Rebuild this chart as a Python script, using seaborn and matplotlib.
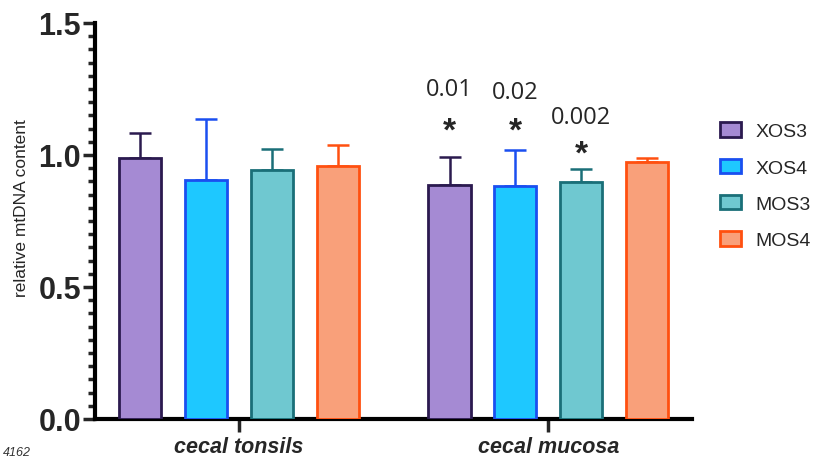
import pandas as pd
import seaborn as sns
import matplotlib.pyplot as plt
from matplotlib.ticker import MultipleLocator

sites = ["cecal tonsils", "cecal mucosa"]
groups = ["XOS3", "XOS4", "MOS3", "MOS4"]
means = {
    "XOS3": [0.99, 0.886],
    "XOS4": [0.905, 0.883],
    "MOS3": [0.943, 0.898],
    "MOS4": [0.958, 0.973],
}
errs = {
    "XOS3": [0.093, 0.106],
    "XOS4": [0.231, 0.136],
    "MOS3": [0.080, 0.049],
    "MOS4": [0.080, 0.016],
}
face_colors = ["#A58AD3", "#1EC8FF", "#6FC8D0", "#F9A07A"]
edge_colors = ["#2B1A4F", "#1A4FF0", "#1A6F78", "#FF5010"]

# p-value labels for cecal mucosa (group, p text, p height, star height)
p_labels = [("XOS3", "0.01", 1.25, 1.09), ("XOS4", "0.02", 1.239, 1.09),
            ("MOS3", "0.002", 1.144, 1.005)]

rows = []
for g in groups:
    for s, m in zip(sites, means[g]):
        rows.append({"site": s, "group": g, "value": m})
df = pd.DataFrame(rows)

sns.set_style("white")
plt.rcParams["font.family"] = ["Liberation Sans", "DejaVu Sans"]

fig = plt.figure(figsize=(8.15, 4.6), dpi=100)
ax = fig.add_axes([0.1166, 0.087, 0.733, 0.861])

sns.barplot(data=df, x="site", y="value", hue="group", order=sites,
            hue_order=groups, palette=face_colors, saturation=1,
            width=0.852, gap=0.36, errorbar=None, ax=ax, zorder=3)

bar_containers = list(ax.containers)
centers = {}
for g, cont, ec in zip(groups, bar_containers, edge_colors):
    xs = []
    for bar in cont:
        bar.set_edgecolor(ec)
        bar.set_linewidth(2)
        xs.append(bar.get_x() + bar.get_width() / 2)
    centers[g] = xs
    ax.errorbar(xs, means[g], yerr=[[0, 0], errs[g]], fmt="none",
                ecolor=ec, elinewidth=1.8, capsize=8, capthick=1.8, zorder=2)

for g, p, py, sy in p_labels:
    x = centers[g][1]
    ax.text(x, py, p, ha="center", va="center", fontsize=17,
            family=["Open Sans", "DejaVu Sans"])
    ax.text(x, sy, "*", ha="center", va="center", fontsize=24, fontweight="bold")

ax.legend_.remove()
handles = [c.patches[0] for c in bar_containers]
fig.legend(handles, groups, loc="upper left", bbox_to_anchor=(0.884, 0.732),
           frameon=False, fontsize=14, labelspacing=0.95, handlelength=1.05,
           handleheight=0.75, handletextpad=0.75, borderpad=0, borderaxespad=0)

ax.set_ylim(0, 1.5)
ax.set_xlim(-0.466, 1.466)
ax.yaxis.set_major_locator(MultipleLocator(0.5))
ax.yaxis.set_minor_locator(MultipleLocator(0.05))
ax.set_yticks([0, 0.5, 1.0, 1.5], ["0.0", "0.5", "1.0", "1.5"])
ax.tick_params(axis="y", which="major", direction="out", length=9, width=2.5,
               left=True, labelsize=22, pad=1)
ax.tick_params(axis="y", which="minor", direction="out", length=5, width=2.5, left=True)
ax.tick_params(axis="x", which="major", direction="out", length=9, width=2.5,
               bottom=True, pad=3)
for lbl in ax.get_yticklabels():
    lbl.set_fontweight("bold")
for lbl in ax.get_xticklabels():
    lbl.set_fontweight("bold")
    lbl.set_fontstyle("italic")
    lbl.set_fontsize(15.5)

ax.set_xlabel("")
ax.set_ylabel("relative mtDNA content", fontsize=12.5)
ax.yaxis.set_label_coords(-0.11, 0.535)
for side in ["top", "right"]:
    ax.spines[side].set_visible(False)
for side in ["left", "bottom"]:
    ax.spines[side].set_linewidth(3)
    ax.spines[side].set_color("black")

fig.text(0.003, 0.002, "4162", fontsize=9, fontstyle="italic", color="#333333",
         va="bottom")

fig.savefig("out.png", dpi=100)
